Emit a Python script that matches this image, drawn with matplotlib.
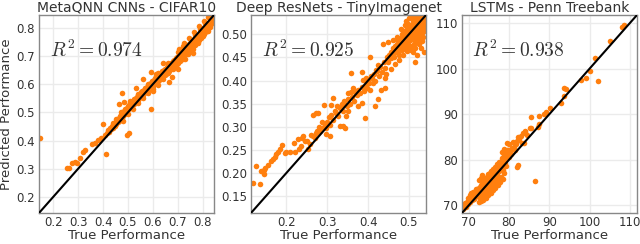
import matplotlib
matplotlib.use("Agg")
import matplotlib.pyplot as plt

titles = ["MetaQNN CNNs - CIFAR10", "Deep ResNets - TinyImagenet", "LSTMs - Penn Treebank"]
r2_values = ["0.974", "0.925", "0.938"]
limits = [(0.143, 0.845), (0.113, 0.542), (68.3, 111.8)]
xticks = [[0.2, 0.3, 0.4, 0.5, 0.6, 0.7, 0.8], [0.2, 0.3, 0.4, 0.5], [70, 80, 90, 100, 110]]
yticks = [[0.2, 0.3, 0.4, 0.5, 0.6, 0.7, 0.8], [0.15, 0.20, 0.25, 0.30, 0.35, 0.40, 0.45, 0.50], [70, 80, 90, 100, 110]]
ytick_fmt = ["{:.1f}", "{:.2f}", "{:.0f}"]
xtick_fmt = ["{:.1f}", "{:.1f}", "{:.0f}"]

# (true, predicted) pairs
cifar_points = [
(0.148,0.410),(0.256,0.301),(0.264,0.301),(0.277,0.320),(0.286,0.323),(0.296,0.320),(0.306,0.338),(0.320,0.360),(0.329,0.365),(0.355,0.387),(0.366,0.391),(0.379,0.402),(0.393,0.410),(0.399,0.458),(0.406,0.420),(0.410,0.352),
(0.415,0.428),(0.420,0.436),(0.424,0.431),(0.428,0.445),(0.432,0.440),(0.436,0.452),(0.440,0.446),(0.444,0.458),(0.447,0.452),(0.450,0.466),(0.453,0.459),(0.456,0.472),(0.459,0.465),(0.462,0.481),(0.465,0.470),(0.468,0.487),(0.470,0.476),(0.473,0.492),(0.476,0.483),(0.478,0.499),(0.481,0.488),(0.484,0.505),(0.486,0.495),(0.489,0.511),(0.492,0.500),(0.494,0.517),(0.497,0.506),(0.500,0.521),(0.502,0.510),(0.505,0.527),(0.507,0.515),(0.510,0.532),(0.513,0.520),(0.515,0.536),(0.518,0.526),(0.520,0.541),(0.523,0.530),(0.526,0.546),(0.528,0.535),(0.531,0.551),(0.534,0.540),(0.536,0.556),(0.539,0.545),(0.542,0.561),(0.544,0.550),(0.547,0.566),(0.550,0.553),(0.553,0.571),(0.555,0.558),(0.558,0.576),(0.561,0.563),(0.564,0.580),(0.566,0.568),(0.569,0.585),(0.572,0.572),(0.575,0.590),(0.578,0.577),(0.581,0.594),(0.583,0.581),(0.586,0.600),(0.589,0.585),(0.592,0.605),(0.595,0.590),(0.598,0.610),(0.600,0.595),(0.603,0.616),(0.606,0.599),(0.609,0.620),(0.612,0.604),(0.615,0.625),(0.617,0.609),(0.620,0.630),(0.623,0.613),(0.626,0.635),(0.629,0.618),(0.632,0.640),(0.635,0.623),(0.638,0.645),(0.641,0.628),(0.644,0.650),(0.647,0.632),(0.650,0.655),(0.653,0.637),(0.656,0.660),(0.659,0.642),(0.662,0.665),(0.665,0.647),(0.668,0.670),(0.671,0.652),(0.674,0.676),(0.677,0.657),(0.680,0.681),(0.683,0.662),(0.686,0.686),(0.689,0.667),(0.692,0.691),(0.695,0.672),(0.698,0.697),(0.701,0.677),(0.704,0.702),(0.707,0.683),(0.710,0.708),(0.713,0.688),(0.716,0.713),(0.719,0.694),(0.722,0.719),(0.725,0.699),(0.728,0.724),(0.731,0.705),(0.734,0.730),(0.737,0.711),(0.740,0.735),(0.743,0.717),(0.746,0.741),(0.749,0.722),(0.752,0.746),(0.755,0.728),(0.758,0.752),(0.761,0.734),(0.764,0.757),(0.767,0.740),(0.770,0.763),(0.773,0.746),(0.776,0.768),(0.779,0.752),(0.782,0.774),(0.785,0.758),(0.788,0.779),(0.791,0.764),(0.794,0.785),(0.797,0.770),(0.800,0.790),(0.803,0.777),(0.806,0.796),(0.809,0.783),(0.812,0.801),(0.815,0.790),(0.818,0.807),(0.821,0.797),(0.824,0.813),(0.827,0.804),(0.830,0.820),(0.833,0.812),(0.836,0.827),(0.839,0.820),(0.842,0.835),
(0.480,0.470),(0.500,0.495),(0.520,0.512),(0.540,0.533),(0.560,0.552),(0.580,0.570),(0.600,0.582),(0.620,0.612),(0.640,0.636),(0.660,0.655),(0.680,0.668),(0.700,0.690),(0.720,0.712),(0.740,0.726),(0.760,0.748),(0.780,0.766),(0.800,0.798),(0.820,0.815),(0.700,0.715),(0.720,0.735),(0.750,0.760),(0.770,0.775),(0.790,0.795),(0.810,0.815),(0.830,0.835),(0.660,0.675),(0.620,0.640),(0.580,0.600),(0.540,0.565),(0.510,0.540),(0.470,0.500),(0.450,0.475),(0.440,0.462),
(0.600,0.575),(0.620,0.598),(0.640,0.618),(0.660,0.640),(0.680,0.655),(0.700,0.675),(0.720,0.690),(0.740,0.705),(0.760,0.725),(0.780,0.745),(0.800,0.770),(0.820,0.790),(0.705,0.725),(0.725,0.745),(0.745,0.765),(0.765,0.785),(0.785,0.805),(0.805,0.825),(0.822,0.838),
(0.476,0.568),(0.482,0.537),(0.532,0.587),(0.592,0.642),(0.612,0.636),(0.592,0.510),(0.665,0.607),(0.678,0.625),(0.497,0.420),(0.505,0.428),(0.560,0.618),(0.465,0.530),(0.640,0.675),(0.700,0.655),(0.760,0.710),(0.730,0.690),
]

tiny_points = [
(0.117,0.179),(0.125,0.214),(0.135,0.176),(0.137,0.203),(0.145,0.207),(0.148,0.210),(0.146,0.198),(0.155,0.216),(0.163,0.226),(0.167,0.230),(0.171,0.234),(0.175,0.241),(0.180,0.246),(0.184,0.251),(0.190,0.260),(0.196,0.244),(0.200,0.246),(0.208,0.246),(0.218,0.264),(0.220,0.245),(0.230,0.252),(0.235,0.258),(0.228,0.273),(0.237,0.276),(0.241,0.280),(0.253,0.251),(0.257,0.262),(0.265,0.280),(0.273,0.287),(0.282,0.291),(0.265,0.326),(0.272,0.329),(0.277,0.330),(0.291,0.348),(0.294,0.305),(0.298,0.298),(0.306,0.303),(0.298,0.284),(0.306,0.280),(0.310,0.348),(0.314,0.362),(0.326,0.323),(0.330,0.301),(0.339,0.301),(0.343,0.298),(0.347,0.323),(0.351,0.334),(0.343,0.348),(0.351,0.373),(0.359,0.376),(0.363,0.384),(0.359,0.416),(0.384,0.419),(0.392,0.319),(0.375,0.344),(0.384,0.351),(0.388,0.401),(0.396,0.405),(0.400,0.400),(0.410,0.405),(0.416,0.344),(0.424,0.359),(0.432,0.380),(0.441,0.384),(0.441,0.405),(0.420,0.423),(0.424,0.434),(0.404,0.451),(0.437,0.480),(0.449,0.484),(0.494,0.530),(0.514,0.441),(0.506,0.466),
(0.250,0.270),(0.245,0.268),(0.260,0.283),(0.270,0.275),(0.275,0.290),(0.280,0.300),(0.285,0.295),(0.288,0.310),(0.292,0.300),(0.300,0.310),(0.305,0.320),(0.310,0.325),(0.315,0.315),(0.318,0.335),(0.322,0.330),(0.325,0.345),(0.330,0.340),(0.335,0.350),(0.338,0.335),(0.342,0.355),(0.348,0.345),(0.352,0.360),(0.355,0.350),(0.360,0.365),(0.365,0.355),(0.368,0.375),(0.372,0.368),(0.376,0.380),(0.380,0.372),(0.385,0.385),(0.390,0.378),(0.394,0.390),(0.398,0.383),(0.402,0.395),(0.405,0.380),(0.408,0.410),(0.412,0.395),(0.415,0.415),(0.418,0.400),(0.422,0.420),(0.426,0.410),(0.430,0.430),(0.434,0.418),(0.438,0.440),(0.442,0.428),(0.446,0.450),
(0.450,0.440),(0.452,0.455),(0.455,0.462),(0.457,0.448),(0.460,0.470),(0.462,0.458),(0.465,0.475),(0.467,0.462),(0.470,0.480),(0.472,0.468),(0.474,0.488),(0.476,0.455),(0.478,0.492),(0.480,0.475),(0.482,0.500),(0.484,0.482),(0.486,0.470),(0.488,0.505),(0.490,0.490),(0.492,0.478),(0.494,0.510),(0.496,0.496),(0.498,0.483),(0.500,0.515),(0.502,0.500),(0.504,0.488),(0.506,0.520),(0.508,0.506),(0.510,0.494),(0.512,0.525),(0.514,0.510),(0.516,0.498),(0.518,0.530),(0.520,0.515),(0.522,0.503),(0.524,0.535),(0.526,0.520),(0.528,0.508),(0.530,0.540),(0.532,0.525),(0.534,0.513),(0.536,0.530),(0.538,0.520),(0.525,0.480),(0.515,0.470),(0.535,0.495),(0.520,0.455),(0.505,0.475),(0.495,0.465),(0.485,0.455),(0.475,0.445),(0.465,0.435),(0.455,0.425),(0.445,0.415),(0.530,0.470),(0.536,0.462),(0.500,0.535),(0.510,0.538),(0.518,0.540),(0.490,0.520),(0.480,0.512),(0.470,0.495),(0.460,0.488),(0.520,0.488),(0.528,0.495),(0.512,0.480),
(0.474,0.472),(0.479,0.483),(0.483,0.466),(0.487,0.494),(0.491,0.503),(0.493,0.486),(0.497,0.507),(0.499,0.522),(0.501,0.490),(0.503,0.512),(0.507,0.498),(0.509,0.528),(0.511,0.516),(0.513,0.502),(0.517,0.520),(0.519,0.508),(0.521,0.533),(0.523,0.495),(0.527,0.528),(0.529,0.516),(0.531,0.503),(0.533,0.536),(0.535,0.522),(0.537,0.508),(0.539,0.538),(0.527,0.538),(0.533,0.485),(0.515,0.485),(0.505,0.505),(0.495,0.500),(0.485,0.490),(0.468,0.472),(0.458,0.460),(0.448,0.452),(0.463,0.450),(0.473,0.460),(0.483,0.478),(0.491,0.470),(0.499,0.475),(0.509,0.462),
]

ptb_points = [
(68.6,69.2),(68.9,69.8),(69.2,70.3),(69.5,70.8),(69.7,70.2),(70.0,71.2),(70.2,71.6),(70.4,70.8),(70.6,72.0),(70.8,71.5),(71.0,72.4),(71.2,72.1),(71.4,72.8),(71.6,72.3),(71.8,73.0),(72.0,72.6),(72.2,72.9),(72.4,73.3),(72.6,73.8),(72.8,74.1),(73.0,74.5),(73.2,74.0),(73.4,75.1),(73.6,74.6),(73.8,75.5),(74.0,75.9),(74.2,75.2),(74.4,76.3),(74.6,75.8),(74.8,76.8),(75.0,76.2),(75.2,77.1),(75.4,76.7),(75.6,77.6),(75.8,77.0),(76.0,78.0),(76.3,77.4),(76.5,78.5),(76.8,77.9),(77.0,79.0),(77.3,78.4),(77.6,79.6),(77.9,79.1),(78.2,80.3),(78.5,79.8),(78.8,81.0),(79.1,80.4),(79.4,81.7),(79.7,82.2),(80.0,83.4),(80.3,81.6),(80.8,82.5),(81.2,82.9),(81.6,83.4),(82.0,84.1),(82.5,84.6),(83.0,85.2),(83.5,85.8),(84.0,86.1),(84.5,85.5),(83.6,83.7),(85.3,86.9),(85.4,89.5),
(72.5,70.8),(72.8,71.5),(73.0,70.9),(73.3,71.8),(73.6,71.2),(73.9,72.3),(74.2,71.6),(74.5,72.8),(74.8,72.2),(75.1,73.4),(75.4,72.7),(75.7,74.0),(76.0,73.3),(76.3,74.5),(76.6,73.8),(76.9,75.0),(77.2,74.4),(77.5,75.6),(77.8,75.1),(78.1,76.2),(78.4,75.7),(78.7,77.0),(77.0,76.0),(76.0,75.5),(75.0,74.5),(74.0,73.5),(73.0,72.5),
(70.5,72.8),(71.0,73.0),(72.5,75.5),(73.0,76.0),(69.0,70.5),(69.8,71.5),(70.3,72.2),(71.5,71.8),(72.0,73.5),(74.5,74.8),(75.5,75.4),(76.5,76.6),(77.5,77.5),(78.0,78.4),(79.0,79.2),
(69.3,69.6),(69.9,70.6),(70.7,71.1),(71.3,71.4),(71.9,72.0),(72.3,72.2),(73.5,73.2),(74.3,74.1),(75.3,75.0),(76.2,76.1),(77.1,76.8),(76.4,77.0),(75.6,76.0),(74.6,75.0),(73.7,74.0),(72.7,73.1),(71.7,73.5),(72.9,72.2),(74.9,73.6),(76.7,75.6),(78.5,77.8),(79.3,78.6),(80.0,80.6),(79.8,81.0),(80.6,81.3),(81.4,82.2),
(78.3,81.8),(78.7,82.4),(79.4,82.1),(79.6,83.6),(81.0,84.0),(82.2,85.0),(83.3,83.6),(84.0,86.3),(85.4,86.9),(87.1,87.2),(87.5,87.8),(87.5,89.7),(88.6,90.0),(89.2,90.5),(90.25,91.3),(92.9,92.4),(93.6,93.9),(93.75,95.8),(94.1,95.5),(97.9,97.5),(99.2,97.9),(100.2,99.6),(101.4,102.3),(102.1,97.4),(105.2,106.1),(108.1,109.1),(108.6,109.5),(86.5,75.3),(82.25,78.9),(81.9,78.4),(73.3,76.7),
]

datasets = [cifar_points, tiny_points, ptb_points]

plt.rcParams["mathtext.fontset"] = "cm"
plt.rcParams["font.family"] = "DejaVu Sans"

fig = plt.figure(figsize=(6.4, 2.44), dpi=100)
lefts = [39/640, 251/640, 462/640]
width = 175/640
bottom = 1 - 213/244
height = 198/244
text_color = "#333333"
orange = "#ff7f0e"

for i, pts in enumerate(datasets):
    ax = fig.add_axes([lefts[i], bottom, width, height])
    xs = [p[0] for p in pts]
    ys = [p[1] for p in pts]
    lo, hi = limits[i]
    ax.set_xlim(lo, hi)
    ax.set_ylim(lo, hi)
    ax.set_axisbelow(True)
    ax.grid(True, color="#ebebeb", linewidth=1.0)
    ax.scatter(xs, ys, s=16, color=orange, linewidths=0, zorder=2)
    ax.plot([lo, hi], [lo, hi], color="black", linewidth=1.5, zorder=3)
    ax.set_xticks(xticks[i])
    ax.set_xticklabels([xtick_fmt[i].format(v) for v in xticks[i]])
    ax.set_yticks(yticks[i])
    ax.set_yticklabels([ytick_fmt[i].format(v) for v in yticks[i]])
    ax.tick_params(axis="x", length=0, pad=2, labelsize=8.5, labelcolor=text_color)
    ax.tick_params(axis="y", length=0, pad=3, labelsize=8.5, labelcolor=text_color)
    for sp in ax.spines.values():
        sp.set_color("#888888")
        sp.set_linewidth(1.0)
    ax.set_title(titles[i], fontsize=10, color=text_color, pad=2)
    ax.set_xlabel("True Performance", fontsize=9.5, color=text_color, labelpad=0)
    if i == 0:
        ax.set_ylabel("Predicted Performance", fontsize=9.5, color=text_color, labelpad=2)
    ax.text(0.06, 0.82, r"$R^2 = %s$" % r2_values[i], transform=ax.transAxes,
            fontsize=14, color=text_color, va="center", ha="left")

fig.savefig("out.png", dpi=100)
